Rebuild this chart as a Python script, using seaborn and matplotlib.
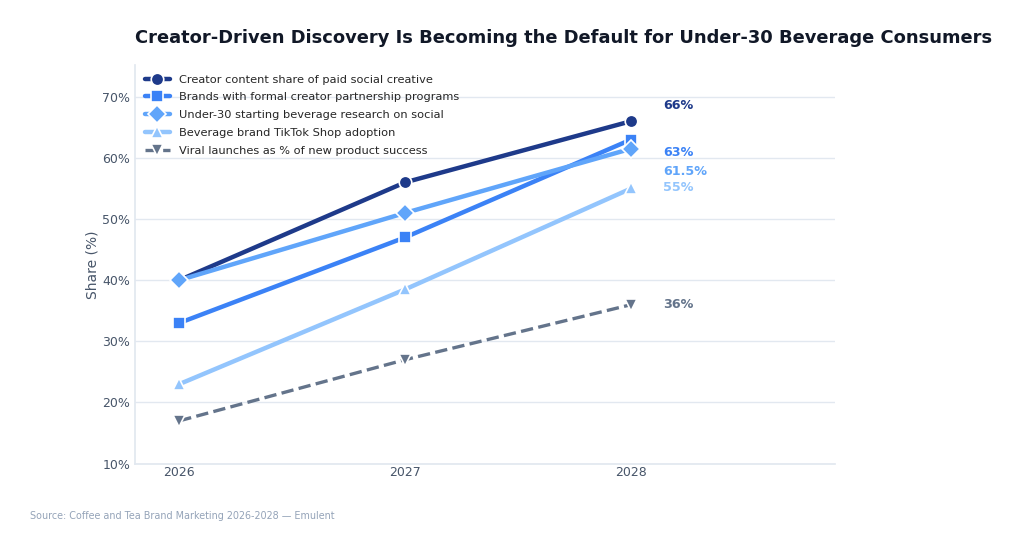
import pandas as pd
import numpy as np
import matplotlib
matplotlib.use("Agg")
import matplotlib.pyplot as plt
import seaborn as sns

years = [2026, 2027, 2028]
series_names = [
    "Creator content share of paid social creative",
    "Brands with formal creator partnership programs",
    "Under-30 starting beverage research on social",
    "Beverage brand TikTok Shop adoption",
    "Viral launches as % of new product success",
]
creator_share = [40, 56, 66]
brand_programs = [33, 47, 63]
under30_research = [40, 51, 61.5]
tiktok_shop = [23, 38.5, 55]
viral_launches = [17, 27, 36]
end_labels = ["66%", "63%", "61.5%", "55%", "36%"]

colors = ["#1e3a8a", "#3b82f6", "#60a5fa", "#93c5fd", "#64748b"]
markers = ["o", "s", "D", "^", "v"]
# label nudges (points) so end labels don't collide
label_dy = [11.5, -9.5, -16.5, 0.7, 0]

sns.set_theme(style="white")
plt.rcParams["font.family"] = ["DejaVu Sans"]

fig, ax = plt.subplots(figsize=(10.24, 5.5), dpi=100)
fig.subplots_adjust(left=0.132, right=0.815, top=0.882, bottom=0.157)

all_values = [creator_share, brand_programs, under30_research, tiktok_shop, viral_launches]
for i, (name, vals) in enumerate(zip(series_names, all_values)):
    df = pd.DataFrame({"Year": years, "Share": vals})
    sns.lineplot(
        data=df, x="Year", y="Share", ax=ax, label=name,
        color=colors[i], marker=markers[i],
        linewidth=3.2 if i < 4 else 2.4,
        linestyle="--" if i == 4 else "-",
        markersize=9 if i < 3 else 8,
        markeredgecolor="white", markeredgewidth=1.2,
    )
    ax.annotate(end_labels[i], xy=(years[-1], vals[-1]), xytext=(23, label_dy[i]),
                textcoords="offset points", va="center", ha="left",
                fontsize=9.2, fontweight="bold", color=colors[i])

ax.set_xlim(2025.805, 2028.9)
ax.set_ylim(10, 75.2)
ax.set_xticks(years)
ax.set_xticklabels([str(y) for y in years])
ax.set_yticks(range(10, 71, 10))
ax.set_yticklabels([f"{t}%" for t in range(10, 71, 10)])
ax.tick_params(colors="#475569", labelsize=9, length=0)
ax.tick_params(axis="x", pad=2)
ax.set_xlabel("")
ax.set_ylabel("Share (%)", color="#475569", fontsize=10, labelpad=2)
ax.grid(axis="y", color="#e2e8f0", linewidth=1)
for s in ["top", "right"]:
    ax.spines[s].set_visible(False)
for s in ["left", "bottom"]:
    ax.spines[s].set_color("#e2e8f0")

ax.legend(loc="upper left", frameon=False, fontsize=8.2, bbox_to_anchor=(0.0, 1.0),
          handlelength=2.2, labelspacing=0.68, borderaxespad=0.45)

ax.set_title("Creator-Driven Discovery Is Becoming the Default for Under-30 Beverage Consumers",
             loc="left", fontsize=12.85, fontweight="bold", color="#111827", pad=16)
fig.text(0.029, 0.057, "Source: Coffee and Tea Brand Marketing 2026-2028 \u2014 Emulent",
         fontsize=6.9, color="#94a3b8")

fig.savefig("out.png", dpi=100)
